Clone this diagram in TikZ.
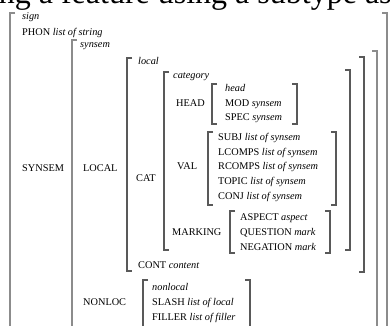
\documentclass[tikz,border=0pt]{standalone}
\usepackage{fontspec}
\setmainfont{Liberation Serif}
\newcommand\lbrk[4][brk]{\draw[#1] (#2+5,#3) -- (#2,#3) -- (#2,#4) -- (#2+5,#4);}
\newcommand\rbrk[4][brk]{\draw[#1] (#2-5,#3) -- (#2,#3) -- (#2,#4) -- (#2-5,#4);}
\begin{document}
\begin{tikzpicture}[x=1pt,y=-1pt,
  lbl/.style={anchor=west,inner sep=0pt,text height=7.2pt,text depth=2.2pt,font=\fontsize{10.3}{12}\selectfont},
  brk/.style={draw=black!65,line width=1.1pt},
  obrk/.style={draw=black!45,line width=1.1pt},
  ttl/.style={anchor=base west,inner sep=0pt,font=\fontsize{32}{36}\selectfont}]
\useasboundingbox (0,0) rectangle (390,325);
\fill[white] (0,0) rectangle (390,325);
\begin{scope}
\clip (0,0) rectangle (390,325);
% clipped title line
\node[ttl] (title) at (-92,3) {Encoding a feature using a subtype aspect};
% brackets
\lbrk[obrk]{10}{13}{340}   \rbrk[obrk]{387}{13}{340}
\lbrk[obrk]{72}{40}{340}   \rbrk[obrk]{377}{51}{340}
\lbrk{127}{58}{271}        \rbrk{364}{57}{272}
\lbrk{164}{72}{250}        \rbrk{350}{70}{250}
\lbrk{212}{84}{124}        \rbrk{297}{84}{124}
\lbrk{208}{132}{205}       \rbrk{336}{132}{205}
\lbrk{230}{211}{253}       \rbrk{330}{211}{253}
\lbrk{143}{280}{340}       \rbrk{250}{280}{340}
\end{scope}
% texts
\node[lbl] (sign) at (22,17) {\textit{sign}};
\node[lbl] (phon) at (22,33) {PHON \textit{list of string}};
\node[lbl] (synsemt) at (80,45) {\textit{synsem}};
\node[lbl] (SYNSEM) at (22,169) {SYNSEM};
\node[lbl] (localt) at (138,62) {\textit{local}};
\node[lbl] (LOCAL) at (83,169) {LOCAL};
\node[lbl] (catt) at (173,76) {\textit{category}};
\node[lbl] (CAT) at (136,179) {CAT};
\node[lbl] (HEAD) at (176,104) {HEAD};
\node[lbl] (headt) at (225,89) {\textit{head}};
\node[lbl] (mod) at (225,104) {MOD \textit{synsem}};
\node[lbl] (spec) at (225,118) {SPEC \textit{synsem}};
\node[lbl] (VAL) at (177,167) {VAL};
\node[lbl] (subj) at (218,138) {SUBJ \textit{list of synsem}};
\node[lbl] (lcomps) at (218,153) {LCOMPS \textit{list of synsem}};
\node[lbl] (rcomps) at (218,167) {RCOMPS \textit{list of synsem}};
\node[lbl] (topic) at (218,182) {TOPIC \textit{list of synsem}};
\node[lbl] (conj) at (218,197) {CONJ \textit{list of synsem}};
\node[lbl] (MARKING) at (172,233) {MARKING};
\node[lbl] (aspect) at (240,218) {ASPECT \textit{aspect}};
\node[lbl] (question) at (240,233) {QUESTION \textit{mark}};
\node[lbl] (negation) at (240,248) {NEGATION \textit{mark}};
\node[lbl] (cont) at (138,266) {CONT \textit{content}};
\node[lbl] (NONLOC) at (83,303) {NONLOC};
\node[lbl] (nonlocalt) at (152,288) {\textit{nonlocal}};
\node[lbl] (slash) at (152,303) {SLASH \textit{list of local}};
\node[lbl] (filler) at (152,318) {FILLER \textit{list of filler}};
\end{tikzpicture}
\end{document}
